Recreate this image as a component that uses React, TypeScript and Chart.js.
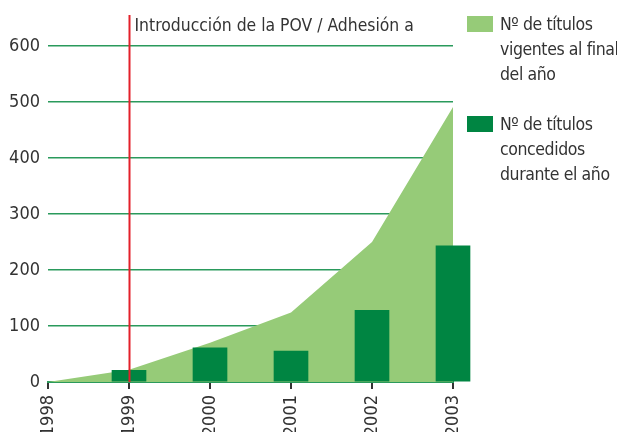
import React, { useEffect, useRef } from "react";
import { Chart, registerables } from "chart.js";

Chart.register(...registerables);

const years = [1998, 1999, 2000, 2001, 2002, 2003];
const vigentes = [0, 22, 70, 124, 250, 491];
const barYears = [1999, 2000, 2001, 2002, 2003];
const concedidos = [21, 61, 55, 128, 243];
const yTicks = [0, 100, 200, 300, 400, 500, 600];
const markerYear = 1999;
const markerText = "Introducción de la POV / Adhesión a";
const legendVigentes = ["Nº de títulos", "vigentes al final", "del año"];
const legendConcedidos = ["Nº de títulos", "concedidos", "durante el año"];

const LIGHT = "#96cb78";
const DARK = "#008542";
const GRID = "#2a9a5c";
const RED = "#e3202a";
const TEXT = "#333333";
const FONT = "'DejaVu Sans Condensed', 'Liberation Sans Narrow', sans-serif";

const markerPlugin = {
  id: "marker",
  afterDatasetsDraw(chart: any) {
    const { ctx, chartArea, scales } = chart;
    const x = Math.round(scales.x.getPixelForValue(markerYear)) + 0.5;
    ctx.save();
    ctx.strokeStyle = RED;
    ctx.lineWidth = 2;
    ctx.beginPath();
    ctx.moveTo(x, 15);
    ctx.lineTo(x, chartArea.bottom);
    ctx.stroke();
    ctx.fillStyle = TEXT;
    ctx.font = `17.4px ${FONT}`;
    ctx.textBaseline = "alphabetic";
    ctx.fillText(markerText, x + 5, 31);
    ctx.restore();
  },
};

export default function App() {
  const ref = useRef<HTMLCanvasElement | null>(null);
  useEffect(() => {
    if (!ref.current) return;
    const chart = new Chart(ref.current, {
      type: "bar",
      data: {
        datasets: [
          {
            type: "line",
            label: legendVigentes.join(" "),
            data: years.map((y, i) => ({ x: y, y: vigentes[i] })),
            fill: "origin",
            backgroundColor: LIGHT,
            borderWidth: 0,
            borderColor: LIGHT,
            pointRadius: 0,
            tension: 0,
            order: 2,
          } as any,
          {
            type: "bar",
            label: legendConcedidos.join(" "),
            data: barYears.map((y, i) => ({ x: y, y: concedidos[i] })),
            backgroundColor: DARK,
            barThickness: 34,
            clip: false,
            order: 1,
          } as any,
        ],
      },
      plugins: [markerPlugin],
      options: {
        animation: false,
        responsive: false,
        maintainAspectRatio: false,
        layout: { padding: { top: 46, right: 164, left: 0, bottom: 0 } },
        plugins: { legend: { display: false }, tooltip: { enabled: false } },
        scales: {
          x: {
            type: "linear",
            min: years[0],
            max: years[years.length - 1],
            offset: false,
            afterFit: (s: any) => {
              s.height = 50;
            },
            afterBuildTicks: (s: any) => {
              s.ticks = years.map((v) => ({ value: v }));
            },
            border: { display: true, color: GRID, width: 2 },
            grid: {
              display: true,
              offset: false,
              drawOnChartArea: false,
              drawTicks: true,
              tickLength: 7,
              color: TEXT,
              lineWidth: 2,
            },
            ticks: {
              minRotation: 90,
              maxRotation: 90,
              autoSkip: false,
              padding: 6,
              color: TEXT,
              font: { family: FONT, size: 18 },
              callback: (v: any) => String(v),
            },
          },
          y: {
            type: "linear",
            min: 0,
            max: 600,
            afterFit: (s: any) => {
              s.width = 48;
            },
            afterBuildTicks: (s: any) => {
              s.ticks = yTicks.map((v) => ({ value: v }));
            },
            border: { display: false },
            grid: { color: GRID, lineWidth: 1.5, drawTicks: false },
            ticks: {
              padding: 8,
              color: TEXT,
              font: { family: FONT, size: 18 },
              callback: (v: any) => String(v),
            },
          },
        },
      },
    });
    return () => chart.destroy();
  }, []);

  const legendItem = (color: string, lines: string[], top: number) => (
    <div style={{ position: "absolute", left: 467, top, display: "flex", whiteSpace: "nowrap" }}>
      <div style={{ width: 26, height: 16, background: color, flexShrink: 0 }} />
      <div
        style={{
          marginLeft: 7,
          marginTop: -4,
          fontFamily: FONT,
          fontSize: 17.5,
          letterSpacing: "-0.4px",
          lineHeight: "25px",
          color: TEXT,
          flexShrink: 0,
        }}
      >
        {lines.map((l, i) => (
          <div key={i}>{l}</div>
        ))}
      </div>
    </div>
  );

  return (
    <div style={{ position: "fixed", left: 0, top: 0, width: 617, height: 432, background: "#fff", overflow: "hidden" }}>
      <canvas ref={ref} width={617} height={432} style={{ position: "absolute", left: 0, top: 0 }} />
      {legendItem(LIGHT, legendVigentes, 16)}
      {legendItem(DARK, legendConcedidos, 116)}
    </div>
  );
}
